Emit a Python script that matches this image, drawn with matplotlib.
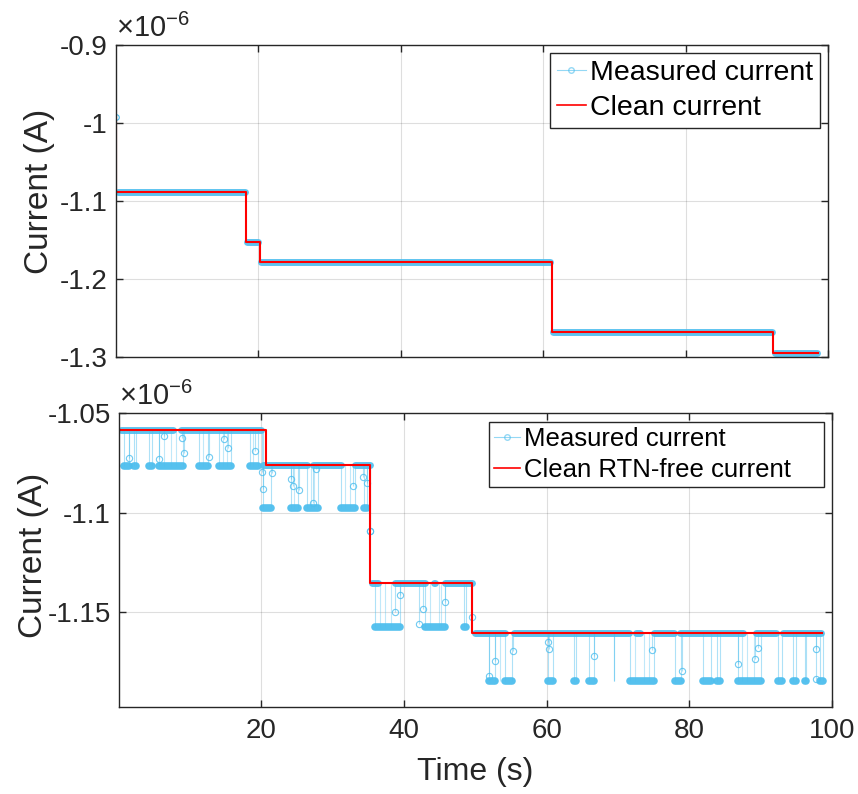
import numpy as np
import matplotlib
matplotlib.use("Agg")
import matplotlib.pyplot as plt
from matplotlib.lines import Line2D
from matplotlib.ticker import FuncFormatter

plt.rcParams['font.family'] = ['Liberation Sans', 'DejaVu Sans']
plt.rcParams['mathtext.fontset'] = 'custom'
plt.rcParams['mathtext.rm'] = 'Liberation Sans'
plt.rcParams['axes.unicode_minus'] = False

MEAS = '#4DBEEE'
AXC = '#262626'

# ---- top panel: measured current plateaus (s, A) ----
top_t0 = [0.3, 18.5, 20.4, 61.4, 92.5]
top_t1 = [18.1, 20.0, 61.0, 92.1, 98.5]
top_lvl = [-1.088e-6, -1.1526e-6, -1.178e-6, -1.268e-6, -1.295e-6]
top_first_t = [0.05]
top_first_i = [-0.992e-6]
# clean current (step)
clean_t = [0.05, 0.1, 18.3, 20.2, 61.2, 92.3, 98.6]
clean_i = [-0.992e-6, -1.088e-6, -1.1526e-6, -1.178e-6, -1.268e-6, -1.295e-6, -1.295e-6]

# ---- bottom panel: RTN measured current ----
seg_hi = [-1.0586e-6, -1.0763e-6, -1.1354e-6, -1.1606e-6]
seg_lo = [-1.0768e-6, -1.0975e-6, -1.1576e-6, -1.1843e-6]
hi_runs = [
    [(0.3, 7.6), (8.8, 20.0)],
    [(20.2, 26.4), (27.2, 31.1), (33.2, 35.3)],
    [(35.5, 36.3), (38.8, 42.9), (44.2, 44.3), (45.8, 49.5)],
    [(50.0, 54.1), (55.4, 71.6), (72.5, 73.1), (75.0, 77.8), (78.7, 87.5),
     (89.3, 92.2), (93.1, 98.4)],
]
lo_runs = [
    [(0.8, 1.5), (2.2, 2.4), (4.3, 4.7), (5.7, 9.0), (11.2, 12.5), (14.1, 15.7), (18.4, 19.5)],
    [(20.2, 21.4), (24.1, 25.1), (26.4, 27.9), (31.2, 33.1), (34.4, 34.8)],
    [(35.9, 39.5), (42.9, 45.7), (48.4, 48.7)],
    [(51.9, 52.7), (54.1, 55.2), (60.2, 60.9), (63.9, 64.1), (66.0, 66.7), (69.4, 69.5),
     (71.7, 75.0), (78.0, 78.9), (81.9, 83.0), (83.9, 84.3), (86.8, 90.0), (92.4, 93.0),
     (94.6, 95.0), (96.2, 96.4), (98.3, 98.7)],
]
# extra switching events inside bursts (vertical traces)
spike_t = [6.4, 7.3, 8.1, 11.8, 14.6, 15.2, 18.9, 24.6, 26.9, 27.4, 31.8, 32.4,
           36.6, 37.4, 38.2, 43.6, 44.9, 45.2, 53.4, 72.4, 73.6, 74.3, 87.4, 88.1, 89.0]
# samples caught mid-transition
stray_t = [1.5, 5.7, 6.3, 8.9, 9.1, 12.6, 14.7, 15.3, 19.1,
           20.1, 20.3, 21.5, 24.1, 24.4, 25.3, 27.2, 27.7, 32.9, 34.2, 34.8, 35.3,
           35.3, 39.4, 38.8, 42.7, 45.7, 49.6, 42.1,
           51.9, 52.7, 55.3, 60.2, 60.3, 66.7, 74.7, 79.0, 86.8, 89.2, 89.6, 97.7, 97.7]
stray_i = [-1.0727e-6, -1.0732e-6, -1.0615e-6, -1.0626e-6, -1.0702e-6, -1.0721e-6,
           -1.0631e-6, -1.0678e-6, -1.0690e-6,
           -1.0796e-6, -1.0879e-6, -1.0803e-6, -1.0830e-6, -1.0867e-6, -1.0884e-6,
           -1.0951e-6, -1.0783e-6, -1.0867e-6, -1.0820e-6, -1.0850e-6, -1.1094e-6,
           -1.1094e-6, -1.1414e-6, -1.1498e-6, -1.1485e-6, -1.1450e-6, -1.1524e-6, -1.1560e-6,
           -1.1818e-6, -1.1742e-6, -1.1695e-6, -1.1650e-6, -1.1683e-6, -1.1720e-6,
           -1.1687e-6, -1.1793e-6, -1.1759e-6, -1.1734e-6, -1.1680e-6, -1.1683e-6, -1.1835e-6]
bclean_t = [0.05, 20.6, 35.3, 49.6, 98.6]
bclean_i = [-1.0586e-6, -1.0763e-6, -1.1354e-6, -1.1606e-6, -1.1606e-6]


def style_axes(ax):
    for s in ax.spines.values():
        s.set_color(AXC)
        s.set_linewidth(1.0)
    ax.tick_params(direction='in', length=5, width=1.0, colors=AXC,
                   top=True, right=True, labelsize=20, labelcolor='#262626')
    ax.tick_params(axis='x', pad=8)
    ax.tick_params(axis='y', pad=6)
    ax.grid(True, color='black', alpha=0.13, lw=0.8)
    ax.set_axisbelow(True)
    ax.yaxis.set_major_formatter(FuncFormatter(lambda v, p: '%g' % round(v / 1e-6, 4)))
    ax.text(0.0, 1.008, r'$\times10^{\mathrm{-6}}$', transform=ax.transAxes,
            ha='left', va='bottom', fontsize=21, color='#262626')


def seg_of(t):
    k = np.searchsorted(bclean_t, t) - 1
    return min(max(k, 0), 3)


fig = plt.figure(figsize=(8.58, 7.94), dpi=100, facecolor='w')
ax1 = fig.add_axes([0.1352, 0.5504, 0.8298, 0.3929])
ax2 = fig.add_axes([0.1387, 0.1096, 0.8310, 0.3703])

# top panel
for t0, t1, lv in zip(top_t0, top_t1, top_lvl):
    ax1.plot([t0, t1], [lv, lv], color=MEAS, lw=5, solid_capstyle='round', alpha=0.9)
ax1.plot(top_first_t, top_first_i, 'o', ms=4, mfc='none', mec=MEAS, mew=0.8)
ax1.plot(clean_t, clean_i, color='red', lw=1.5, drawstyle='steps-post')
ax1.set_xlim(0.05, 100)
ax1.set_ylim(-1.3e-6, -0.9e-6)
ax1.set_xticks([20, 40, 60, 80, 100])
ax1.set_yticks([-1.3e-6, -1.2e-6, -1.1e-6, -1.0e-6, -0.9e-6])
ax1.tick_params(labelbottom=False)
style_axes(ax1)
ax1.set_ylabel('Current (A)', fontsize=24, color='#262626')
ax1.yaxis.set_label_coords(-0.086, 0.532)

# bottom panel
for k in range(len(seg_hi)):
    hi, lo = seg_hi[k], seg_lo[k]
    for t0, t1 in lo_runs[k]:
        ax2.vlines([t0, t1], lo, hi, color=MEAS, lw=0.8, alpha=0.45)
for t in spike_t:
    k = seg_of(t)
    ax2.vlines(t, seg_lo[k], seg_hi[k], color=MEAS, lw=0.8, alpha=0.35)
for t, v in zip(stray_t, stray_i):
    ax2.vlines(t, v, seg_hi[seg_of(t)], color=MEAS, lw=0.8, alpha=0.45)
for k in range(len(seg_hi)):
    hi, lo = seg_hi[k], seg_lo[k]
    for t0, t1 in hi_runs[k]:
        ax2.plot([t0, t1], [hi, hi], color=MEAS, lw=5, solid_capstyle='round', alpha=0.9)
    for t0, t1 in lo_runs[k]:
        ax2.plot([t0, t1], [lo, lo], color=MEAS, lw=5.5, solid_capstyle='round', alpha=0.95)
ax2.plot(stray_t, stray_i, 'o', ms=4.5, mfc='none', mec=MEAS, mew=0.8, alpha=0.8)
ax2.plot(bclean_t, bclean_i, color='red', lw=1.5, drawstyle='steps-post')
ax2.set_xlim(0.05, 100)
ax2.set_ylim(-1.1975e-6, -1.05e-6)
ax2.set_xticks([20, 40, 60, 80, 100])
ax2.set_yticks([-1.15e-6, -1.1e-6, -1.05e-6])
style_axes(ax2)
ax2.set_ylabel('Current (A)', fontsize=24, color='#262626')
ax2.yaxis.set_label_coords(-0.098, 0.517)
ax2.set_xlabel('Time (s)', fontsize=23, color='#262626')
ax2.xaxis.set_label_coords(0.5, -0.17)

# legends
meas_h = Line2D([], [], color=MEAS, lw=0.8, alpha=0.6, marker='o', ms=4, mfc='none', mec=MEAS)
leg_kw = dict(loc='upper right', frameon=True, fancybox=False, framealpha=1,
              edgecolor='#262626', handlelength=1.0, handletextpad=0.15,
              borderaxespad=0)
l1 = ax1.legend([meas_h, Line2D([], [], color='red', lw=1.2)],
                ['Measured current', 'Clean current'],
                bbox_to_anchor=(0.989, 0.974), fontsize=20.5,
                borderpad=0.25, labelspacing=0.3, **leg_kw)
l2 = ax2.legend([meas_h, Line2D([], [], color='red', lw=1.2)],
                ['Measured current', 'Clean RTN-free current    '],
                bbox_to_anchor=(0.989, 0.969), fontsize=18.5,
                borderpad=0.2, labelspacing=0.25, **leg_kw)
for l in (l1, l2):
    l.get_frame().set_linewidth(1.0)

fig.savefig('out.png', dpi=100)
